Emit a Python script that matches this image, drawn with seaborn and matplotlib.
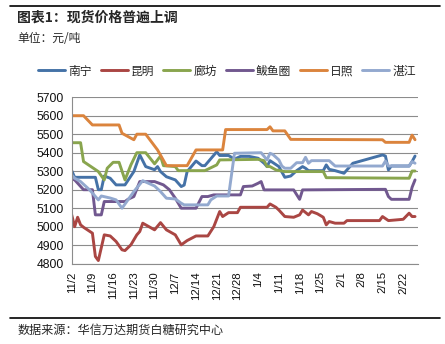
import matplotlib
matplotlib.use("Agg")
import matplotlib.pyplot as plt
import matplotlib.dates as mdates
from matplotlib.lines import Line2D
import seaborn as sns
import pandas as pd

series_names = ["南宁", "昆明", "廊坊", "鲅鱼圈", "日照", "湛江"]
colors = ["#4572A7", "#AA4643", "#89A54E", "#71588F", "#DB843D", "#93A9CF"]

nanning_dates = ["11/02", "11/03", "11/10", "11/11", "11/12", "11/13", "11/15", "11/17", "11/20", "11/23",
                 "11/25", "11/27", "11/30", "12/01", "12/02", "12/04", "12/07", "12/09", "12/10", "12/11",
                 "12/14", "12/16", "12/17", "12/21", "12/22", "12/25", "12/27", "12/29", "01/01", "01/04",
                 "01/06", "01/07", "01/08", "01/11", "01/13", "01/15", "01/17", "01/19", "01/20", "01/21",
                 "01/26", "01/27", "01/28", "01/30", "02/02", "02/05", "02/15", "02/16", "02/17", "02/18",
                 "02/24", "02/25", "02/26"]
nanning_vals = [5303, 5267, 5267, 5200, 5200, 5274, 5262, 5226, 5226, 5298,
                5388, 5325, 5308, 5325, 5298, 5270, 5253, 5217, 5225, 5298,
                5355, 5330, 5330, 5405, 5385, 5385, 5365, 5380, 5380, 5370,
                5343, 5325, 5357, 5325, 5267, 5274, 5303, 5325, 5316, 5303,
                5303, 5334, 5310, 5303, 5289, 5343, 5388, 5382, 5307, 5328,
                5328, 5352, 5382]

kunming_dates = ["11/02", "11/03", "11/04", "11/05", "11/06", "11/09", "11/10", "11/11", "11/13", "11/15",
                 "11/17", "11/19", "11/20", "11/22", "11/24", "11/25", "11/26", "11/27", "11/30", "12/02",
                 "12/04", "12/07", "12/09", "12/11", "12/14", "12/18", "12/20", "12/22", "12/23", "12/25",
                 "12/28", "12/29", "01/07", "01/08", "01/10", "01/11", "01/13", "01/16", "01/18", "01/19",
                 "01/21", "01/22", "01/24", "01/26", "01/27", "01/28", "01/30", "02/02", "02/03", "02/14",
                 "02/15", "02/17", "02/22", "02/24", "02/25", "02/26"]
kunming_vals = [5064, 5000, 5051, 5010, 4997, 4965, 4839, 4817, 4956, 4950,
                4920, 4875, 4871, 4902, 4956, 4974, 5019, 5010, 4983, 5022,
                4983, 4956, 4902, 4925, 4950, 4950, 5000, 5082, 5055, 5076,
                5076, 5105, 5105, 5123, 5105, 5090, 5055, 5051, 5064, 5090,
                5064, 5082, 5070, 5051, 5010, 5028, 5019, 5019, 5033, 5033,
                5055, 5033, 5040, 5073, 5055, 5055]

langfang_dates = ["11/02", "11/05", "11/06", "11/11", "11/13", "11/14", "11/16", "11/18", "11/20", "11/22",
                  "11/24", "11/27", "11/30", "12/02", "12/03", "12/07", "12/08", "12/17", "12/21", "12/22",
                  "01/04", "01/06", "01/07", "01/08", "01/10", "01/13", "01/26", "01/27", "02/24", "02/25",
                  "02/26"]
langfang_vals = [5454, 5454, 5352, 5298, 5253, 5316, 5348, 5348, 5253, 5334,
                 5400, 5400, 5340, 5382, 5330, 5325, 5303, 5303, 5334, 5361,
                 5364, 5357, 5325, 5325, 5307, 5298, 5298, 5265, 5262, 5301,
                 5301]

bayuquan_dates = ["11/02", "11/03", "11/06", "11/09", "11/10", "11/12", "11/13", "11/20", "11/21", "11/23",
                  "11/25", "11/30", "12/03", "12/05", "12/07", "12/09", "12/14", "12/16", "12/18", "12/20",
                  "12/29", "12/30", "01/02", "01/04", "01/05", "01/06", "01/16", "01/18", "01/19", "02/16",
                  "02/17", "02/18", "02/24", "02/25", "02/26"]
bayuquan_vals = [5258, 5253, 5200, 5200, 5064, 5064, 5136, 5136, 5148, 5163,
                 5244, 5244, 5226, 5200, 5154, 5100, 5100, 5163, 5163, 5172,
                 5172, 5217, 5220, 5235, 5244, 5199, 5199, 5148, 5199, 5202,
                 5163, 5148, 5148, 5213, 5253]

rizhao_dates = ["11/02", "11/06", "11/09", "11/18", "11/19", "11/23", "11/24", "11/27", "12/01", "12/04",
                "12/11", "12/14", "12/23", "12/24", "01/07", "01/08", "01/09", "01/13", "01/15", "02/15",
                "02/16", "02/24", "02/25", "02/26"]
rizhao_vals = [5600, 5600, 5550, 5550, 5505, 5470, 5500, 5500, 5415, 5330,
               5330, 5415, 5415, 5525, 5525, 5540, 5518, 5518, 5472, 5470,
               5456, 5456, 5495, 5470]

zhanjiang_dates = ["11/02", "11/03", "11/05", "11/08", "11/11", "11/12", "11/15", "11/17", "11/19", "11/21",
                   "11/23", "11/26", "11/30", "12/02", "12/04", "12/07", "12/09", "12/10", "12/18", "12/19",
                   "12/21", "12/25", "12/27", "01/05", "01/07", "01/08", "01/09", "01/11", "01/12", "01/13",
                   "01/15", "01/17", "01/19", "01/20", "01/21", "01/22", "01/28", "01/30", "02/15", "02/16",
                   "02/17", "02/24", "02/25", "02/26"]
zhanjiang_vals = [5280, 5262, 5244, 5200, 5145, 5166, 5155, 5145, 5100, 5145,
                  5190, 5249, 5220, 5190, 5154, 5150, 5127, 5118, 5118, 5145,
                  5166, 5166, 5397, 5400, 5361, 5397, 5390, 5361, 5328, 5316,
                  5316, 5346, 5346, 5375, 5343, 5357, 5357, 5328, 5328, 5355,
                  5328, 5328, 5352, 5343]

tick_dates = ["11/02", "11/09", "11/16", "11/23", "11/30", "12/07", "12/14", "12/21", "12/28",
              "01/04", "01/11", "01/18", "01/25", "02/01", "02/08", "02/15", "02/22"]
tick_labels = ["11/2", "11/9", "11/16", "11/23", "11/30", "12/7", "12/14", "12/21", "12/28",
               "1/4", "1/11", "1/18", "1/25", "2/1", "2/8", "2/15", "2/22"]
y_ticks = [4800, 4900, 5000, 5100, 5200, 5300, 5400, 5500, 5600, 5700]

title_text = "图表1：现货价格普遍上调"
unit_text = "单位：元/吨"
source_text = "数据来源：华信万达期货白糖研究中心"


def to_dt(s):
    m, d = s.split("/")
    year = 2020 if int(m) >= 11 else 2021
    return pd.Timestamp(year=year, month=int(m), day=int(d))


all_dates = [nanning_dates, kunming_dates, langfang_dates, bayuquan_dates, rizhao_dates, zhanjiang_dates]
all_vals = [nanning_vals, kunming_vals, langfang_vals, bayuquan_vals, rizhao_vals, zhanjiang_vals]
frames = []
for name, ds, vs in zip(series_names, all_dates, all_vals):
    frames.append(pd.DataFrame({"date": [to_dt(s) for s in ds], "value": vs, "city": name}))
df = pd.concat(frames, ignore_index=True)

sns.set_theme(style="white")
plt.rcParams["font.family"] = ["Noto Sans CJK SC", "DejaVu Sans"]

W, H = 445, 344
fig = plt.figure(figsize=(W / 100, H / 100), dpi=100)
left, right, top, bottom = 71.7, 418, 97.2, 263.7
ax = fig.add_axes([left / W, 1 - bottom / H, (right - left) / W, (bottom - top) / H])

sns.lineplot(data=df, x="date", y="value", hue="city", hue_order=series_names,
             palette=colors, sort=False, estimator=None, linewidth=2.1, ax=ax, legend=False)

ax.set_ylim(4800, 5700)
ax.set_yticks(y_ticks)
ax.set_xlim(to_dt("11/02"), pd.Timestamp(2021, 2, 27))
ax.set_xticks([to_dt(s) for s in tick_dates])
ax.set_xticklabels(tick_labels, rotation=90)
ax.set_xlabel("")
ax.set_ylabel("")
ax.grid(axis="y", color="#8c8c8c", linewidth=0.8)
ax.grid(axis="x", visible=False)
ax.set_axisbelow(True)
for sp in ["top", "right"]:
    ax.spines[sp].set_visible(False)
for sp in ["left", "bottom"]:
    ax.spines[sp].set_color("#8c8c8c")
    ax.spines[sp].set_linewidth(0.8)
ax.tick_params(axis="both", direction="out", length=3.5, width=0.8, color="#8c8c8c",
               labelcolor="#111111", pad=2)
ax.tick_params(axis="y", labelsize=8.7)
ax.tick_params(axis="x", labelsize=8.2)
for lab in ax.get_xticklabels() + ax.get_yticklabels():
    lab.set_family(["Liberation Sans", "DejaVu Sans"])

handles = [Line2D([0], [0], color=c, lw=2.1) for c in colors]
fig.legend(handles, series_names, loc="center", bbox_to_anchor=(227 / W, 1 - 71 / H), ncol=6,
           frameon=False, fontsize=8.5, handlelength=2.3, handletextpad=0.25, columnspacing=0.75)

fig.text(17 / W, 1 - 18 / H, title_text, fontsize=10, fontweight="bold", va="center", ha="left")
fig.text(17 / W, 1 - 38 / H, unit_text, fontsize=8.5, va="center", ha="left")
fig.text(18 / W, 1 - 330 / H, source_text, fontsize=8.7, va="center", ha="left")
fig.add_artist(Line2D([10 / W, 440 / W], [1 - 6 / H, 1 - 6 / H], color="black", lw=1.2))
fig.add_artist(Line2D([10 / W, 440 / W], [1 - 318 / H, 1 - 318 / H], color="black", lw=1.2))

fig.savefig("out.png", dpi=100)
